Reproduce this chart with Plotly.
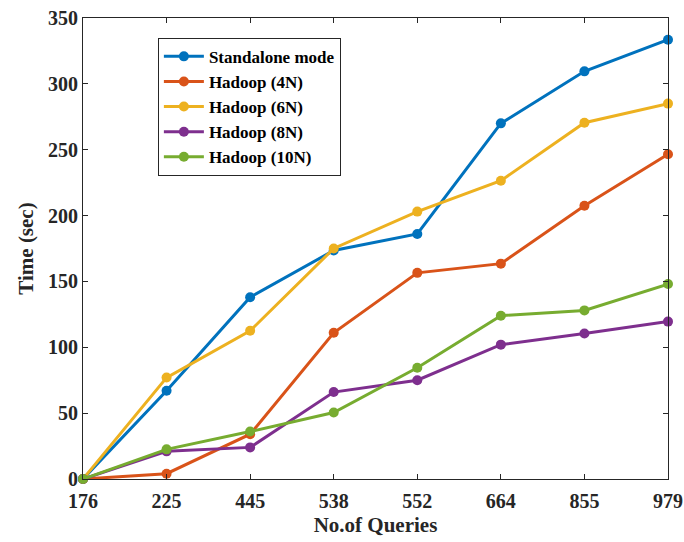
import plotly.graph_objects as go

queries = ["176", "225", "445", "538", "552", "664", "855", "979"]
standalone = [0, 67, 138, 173.5, 186, 270, 309.5, 333.5]
hadoop_4n = [0, 4, 34, 111, 156.5, 163.5, 207.5, 246.5]
hadoop_6n = [0, 77, 112.5, 175, 203, 226.5, 270.5, 285]
hadoop_8n = [0, 21, 24, 66, 75, 102, 110.5, 119.5]
hadoop_10n = [0, 22.5, 36, 50.5, 84.5, 124, 128, 148]

series_names = ["Standalone mode", "Hadoop (4N)", "Hadoop (6N)", "Hadoop (8N)", "Hadoop (10N)"]
series_values = [standalone, hadoop_4n, hadoop_6n, hadoop_8n, hadoop_10n]
colors = ["#0072BD", "#D95319", "#EDB120", "#7E2F8E", "#77AC30"]

FONT = "Liberation Serif"

fig = go.Figure()
for name, vals, col in zip(series_names, series_values, colors):
    fig.add_trace(go.Scatter(
        x=queries, y=vals, name=name, mode="lines+markers",
        line=dict(color=col, width=3),
        marker=dict(color=col, size=10),
        cliponaxis=False,
    ))

axis_common = dict(
    showline=True, linecolor="#262626", linewidth=1, mirror="ticks",
    ticks="inside", ticklen=5, tickcolor="#262626", tickwidth=1,
    showgrid=False, zeroline=False, automargin=False,
    tickfont=dict(family=FONT, size=20, color="#262626", weight="bold"),
)

fig.update_layout(
    width=684, height=542,
    margin=dict(l=83, r=16, t=18, b=63),
    paper_bgcolor="white", plot_bgcolor="white",
    font=dict(family=FONT, color="#262626"),
    xaxis=dict(
        type="category", range=[0, 7], ticklabelstandoff=4,
        title=dict(text="No.of Queries", font=dict(family=FONT, size=21, color="#262626", weight="bold"), standoff=6),
        **axis_common,
    ),
    yaxis=dict(
        range=[0, 350], tickvals=[0, 50, 100, 150, 200, 250, 300, 350],
        title=dict(text="Time (sec)", font=dict(family=FONT, size=21, color="#262626", weight="bold"), standoff=8),
        **axis_common,
    ),
    legend=dict(
        x=0.128, y=0.957, xanchor="left", yanchor="top",
        bgcolor="white", bordercolor="#262626", borderwidth=1,
        font=dict(family=FONT, size=17, color="#000000", weight="bold"),
        tracegroupgap=0, itemwidth=40,
    ),
    showlegend=True,
)

fig.write_html("out.html")
